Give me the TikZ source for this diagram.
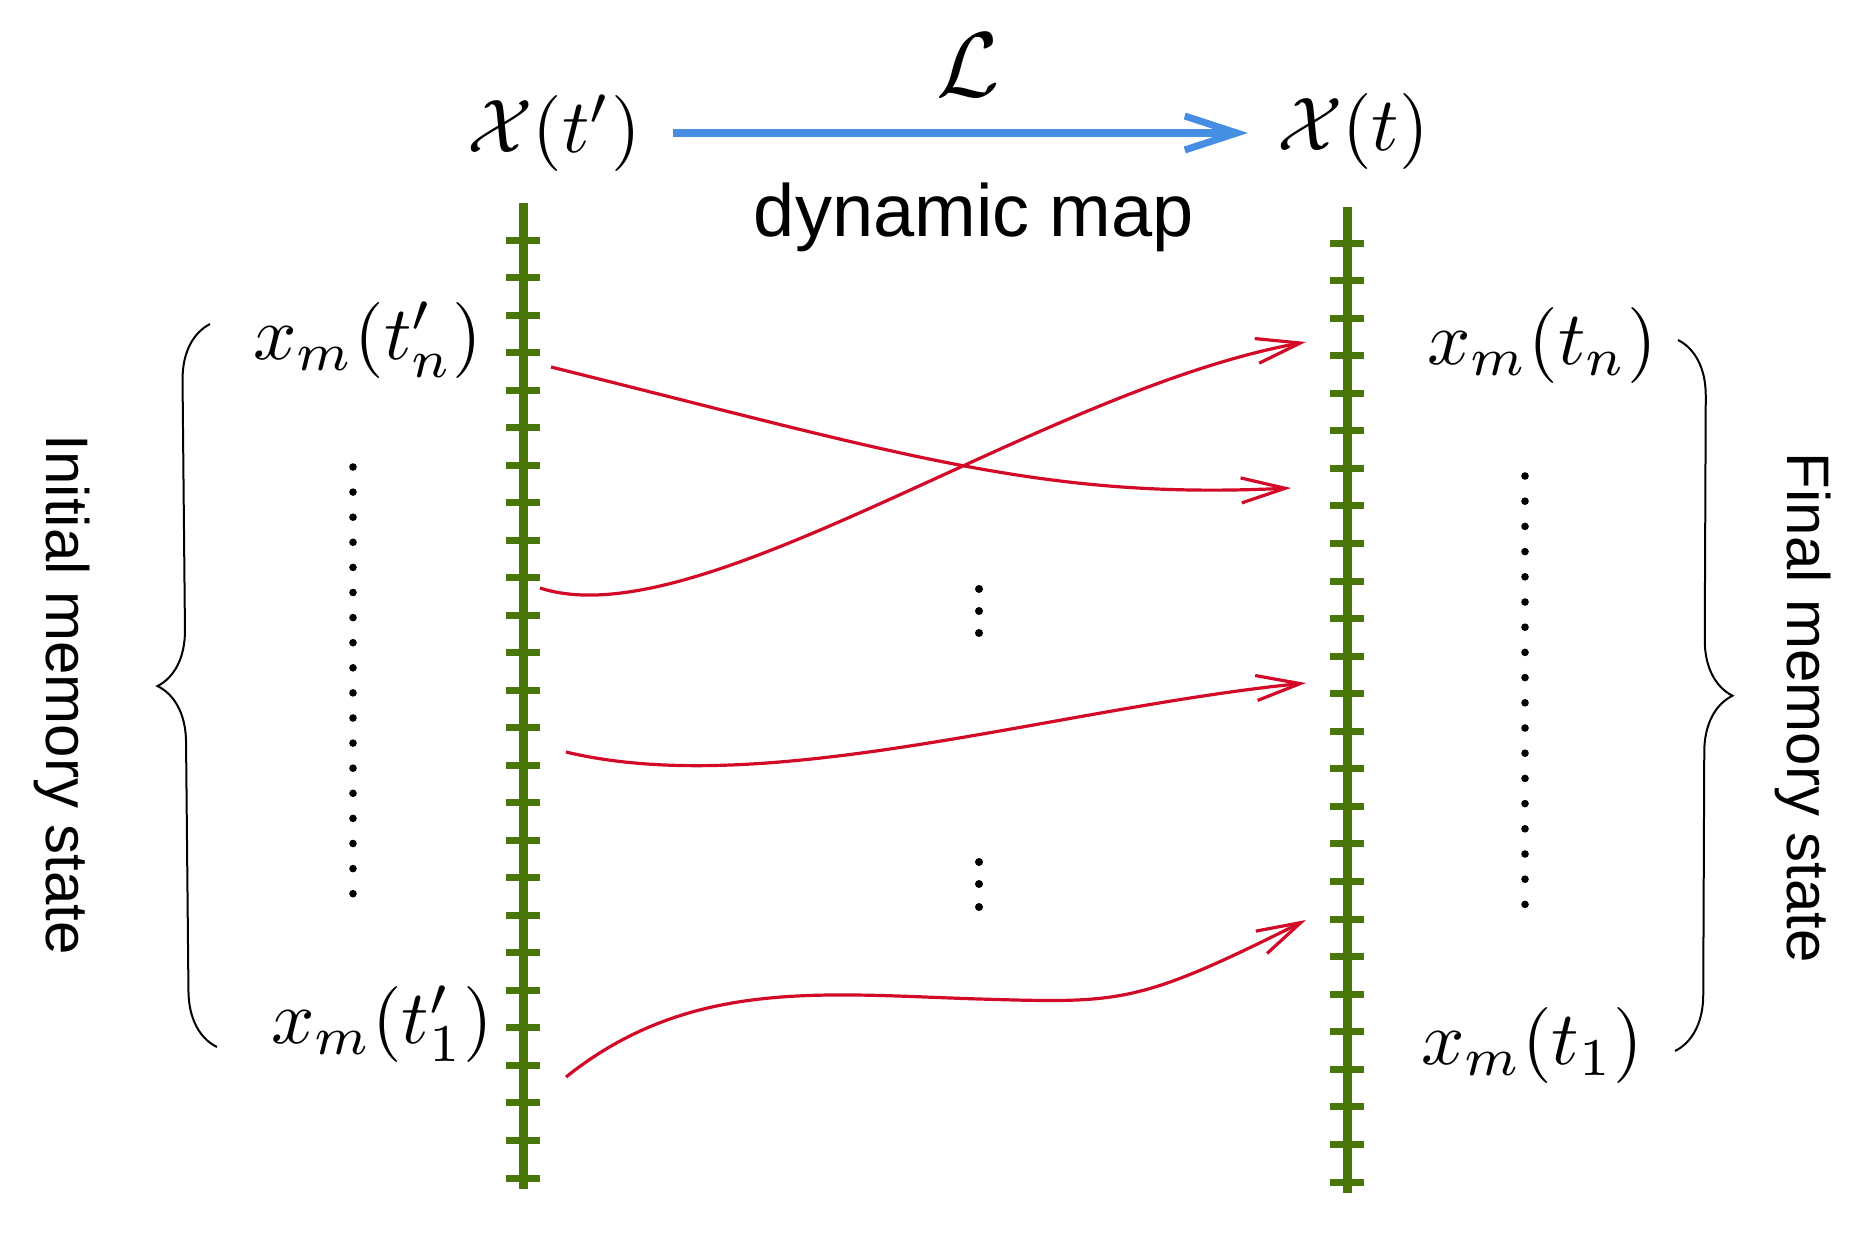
\documentclass[tikz,border=0pt]{standalone}
\usepackage{fontspec}
\setsansfont{Liberation Sans}
\usetikzlibrary{arrows.meta,decorations.pathreplacing}
\definecolor{bargreen}{RGB}{72,118,8}
\definecolor{arrred}{RGB}{210,10,40}
\definecolor{mapblue}{RGB}{70,142,226}
\begin{document}
\begin{tikzpicture}[x=0.5pt,y=-0.5pt,
  bar/.style={draw=bargreen,line width=4.5pt},
  tickmark/.style={draw=bargreen,line width=3.5pt},
  maparrow/.style={draw=arrred,line width=1.6pt,-{Straight Barb[length=22pt,width=12.5pt]}},
  mathlbl/.style={scale=3.8,inner sep=0pt},
  sidelbl/.style={font=\sffamily\fontsize{30}{32}\selectfont,rotate=-90,inner sep=0pt},
  bracestyle/.style={draw=black,line width=1pt,decorate,decoration={brace,amplitude=28pt}},
  dotmark/.style={fill=black}]
\useasboundingbox (0,0) rectangle (1862,1236);

% top labels and dynamic map arrow
\node[mathlbl] (Xp) at (554,133) {$\mathcal{X}(t')$};
\node[mathlbl] (X) at (1353,131) {$\mathcal{X}(t)$};
\node[scale=4.6,inner sep=0pt] (L) at (968,65) {$\mathcal{L}$};
\node[font=\sffamily\fontsize{37}{40}\selectfont,inner sep=0pt] (dm) at (974,217) {dynamic map};
\coordinate (bs) at (673,133);
\coordinate (be) at (1248,133);
\draw[mapblue,line width=3.5pt,-{Straight Barb[length=26pt,width=17pt]}] (bs) -- (be);

% green bars
\draw[bar] (523,203) -- (523,1189);
\foreach \i in {0,...,25} \draw[tickmark] (506,{240+37.52*\i}) -- (540,{240+37.52*\i});
\draw[bar] (1347,207) -- (1347,1193);
\foreach \i in {0,...,25} \draw[tickmark] (1330,{243+37.56*\i}) -- (1364,{243+37.56*\i});

% memory labels
\node[mathlbl] (xpn) at (368,340) {$x_m(t'_n)$};
\node[mathlbl] (xp1) at (382,1024) {$x_m(t'_1)$};
\node[mathlbl] (xn) at (1542,345) {$x_m(t_n)$};
\node[mathlbl] (x1) at (1532,1045) {$x_m(t_1)$};

% dots
\foreach \i in {0,...,17} \fill[dotmark] (353,{467+25.1*\i}) circle (1.9pt);
\foreach \i in {0,...,17} \fill[dotmark] (1525,{476+25.2*\i}) circle (1.9pt);
\foreach \y in {589,611,633,862,884,907} \fill[dotmark] (979,\y) circle (2pt);

% braces
\coordinate (lbb) at (217,1047);
\coordinate (lbt) at (210,324);
\draw[bracestyle] (lbb) -- (lbt);
\coordinate (rbt) at (1678,340);
\coordinate (rbb) at (1675,1051);
\draw[bracestyle] (rbt) -- (rbb);
\node[sidelbl] (ini) at (62,695) {Initial memory state};
\node[sidelbl] (fin) at (1803,708) {Final memory state};

% red mapping arrows
\coordinate (a0) at (551,367);  \coordinate (a1) at (1291,488);
\coordinate (b0) at (540,588);  \coordinate (b1) at (1306,342);
\coordinate (c0) at (566,752);  \coordinate (c1) at (1306,683);
\coordinate (d0) at (566,1077); \coordinate (dm1) at (979,999); \coordinate (d1) at (1306,920);
\draw[maparrow] (a0) .. controls (901,454) and (1041,500) .. (a1);
\draw[maparrow] (b0) .. controls (700,640) and (1040,390) .. (b1);
\draw[maparrow] (c0) .. controls (766,800) and (1056,708) .. (c1);
\draw[maparrow] (d0) .. controls (690,978) and (822,994) .. (dm1) .. controls (1121,1003) and (1136,1005) .. (d1);
\end{tikzpicture}
\end{document}
